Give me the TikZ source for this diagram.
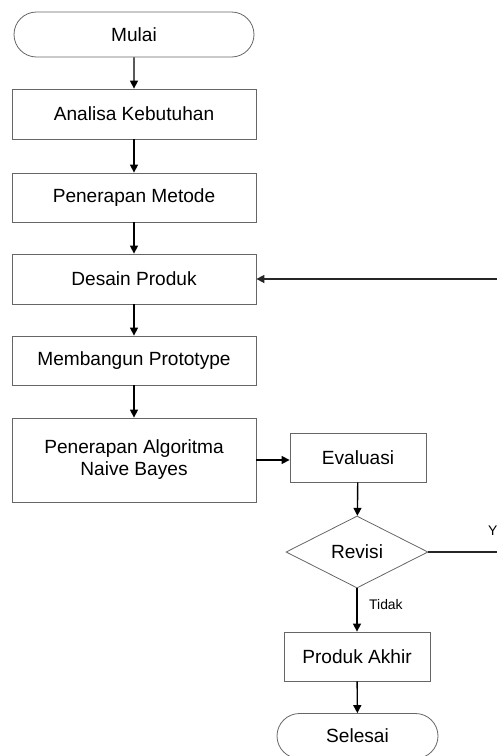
\documentclass[tikz,border=0pt]{standalone}
\usepackage{fontspec}
\setmainfont{Liberation Sans}
\usetikzlibrary{shapes.geometric,shapes.misc,arrows.meta}
\begin{document}
\begin{tikzpicture}[x=1pt,y=-1pt,
  base/.style={draw=black!60, line width=0.8pt, align=center, inner sep=2pt,
    font=\fontsize{19.1}{22}\selectfont},
  procbox/.style={base, rectangle, minimum width=244pt},
  sidebox/.style={base, rectangle},
  terminal/.style={base, rounded rectangle},
  decision/.style={base, diamond, aspect=2, inner sep=0pt},
  flow/.style={-{Triangle[length=8pt,width=8pt]}, line width=1.4pt, black},
  smalllabel/.style={font=\fontsize{13.9}{16}\selectfont, inner sep=0pt}
]
\useasboundingbox (0,0) rectangle (497,756);
\clip (0,0) rectangle (497,756);

% main column
\node[terminal, minimum width=244pt, minimum height=45pt] (start) at (134,34.5) {Mulai};
\node[procbox, minimum height=50pt] (analisa) at (134,114) {Analisa Kebutuhan};
\node[procbox, minimum height=49pt] (metode) at (134,197.5) {Penerapan Metode};
\node[procbox, minimum height=50pt] (desain) at (134,279) {Desain Produk};
\node[procbox, minimum height=49pt] (proto) at (134,360.5) {Membangun Prototype};
\node[procbox, minimum height=84pt] (algo) at (134,460) {Penerapan Algoritma\\Naive Bayes};

% evaluation column
\node[sidebox, minimum width=136pt, minimum height=49pt] (eval) at (358,457.5) {Evaluasi};
\node[decision, minimum width=142pt, minimum height=72pt] (revisi) at (357,552) {Revisi};
\node[sidebox, minimum width=146pt, minimum height=49pt] (akhir) at (357,656.5) {Produk Akhir};
\node[terminal, minimum width=165pt, minimum height=45pt] (selesai) at (357.5,736) {Selesai};

% loop-back route
\coordinate (loopA) at (515,552);
\coordinate (loopB) at (515,279);

% connectors
\draw[flow] (start) -- (analisa);
\draw[flow] (analisa) -- (metode);
\draw[flow] (metode) -- (desain);
\draw[flow] (desain) -- (proto);
\draw[flow] (proto) -- (algo);
\draw[flow] (algo.east |- 0,460) -- (eval.west |- 0,460);
\draw[flow] (eval) -- (revisi);
\draw[flow] (revisi) -- (akhir);
\draw[flow] (akhir) -- (selesai);
\draw[flow, line width=1.6pt, black!85] (revisi.east) -- (loopA) -- (loopB) -- (desain.east);

% branch labels
\node[smalllabel, anchor=west] (tidak) at (369,605) {Tidak};
\node[smalllabel, anchor=west] (ya) at (488,531) {Y};
\end{tikzpicture}
\end{document}
